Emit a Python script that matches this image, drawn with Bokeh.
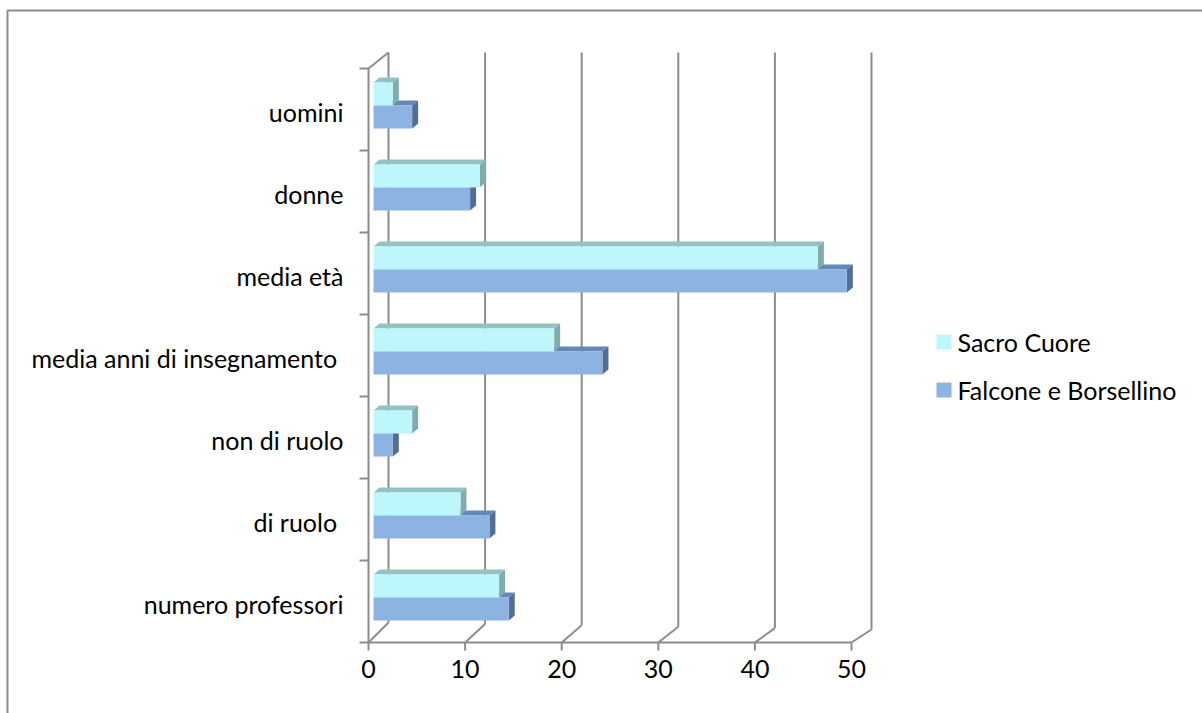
from bokeh.plotting import figure
from bokeh.models import Range1d
from bokeh.embed import file_html
from bokeh.resources import INLINE
from bokeh.core.properties import value

# ---- data -------------------------------------------------------------
categories = [
    "uomini",
    "donne",
    "media età",
    "media anni di insegnamento\u00a0",
    "non di ruolo",
    "di ruolo\u00a0",
    "numero professori",
]
series_names = ["Sacro Cuore", "Falcone e Borsellino"]
sacro_cuore = [2, 11, 46, 18.7, 4, 9, 13]
falcone_borsellino = [4, 10, 49, 23.7, 2, 12, 14]
x_ticks = [0, 10, 20, 30, 40, 50]

# ---- page geometry (pixels) ------------------------------------------
W, H = 1202, 713
X0_PX = 368          # front plane, value 0
SX = 9.66            # pixels per value unit
FLOOR_PX = 642       # front edge of the floor
TOP_PX = 68          # top of the front axis
N = len(categories)
SY = (FLOOR_PX - TOP_PX) / N   # pixels per category slot

def hx(px):
    return px / SX

def hy(px):
    return px / SY

def at_x(px):
    return (px - X0_PX) / SX

def at_y(px):
    return (FLOOR_PX - px) / SY

FONT = value("Lato")
FONT_SIZE = "25px"
LINE = "#8c8c8c"

p = figure(
    width=W, height=H,
    x_range=Range1d(at_x(0), at_x(W)),
    y_range=Range1d(at_y(H), at_y(0)),
    x_axis_type=None, y_axis_type=None,
    min_border=0, toolbar_location=None, output_backend="svg",
)
p.grid.visible = False
p.outline_line_color = None
p.background_fill_color = "white"
p.border_fill_color = "white"

# ---- chart area border ------------------------------------------------
p.line([at_x(7), at_x(7), at_x(W + 10)], [at_y(H + 10), at_y(10), at_y(10)],
       line_color=LINE, line_width=2)

# ---- 3-D walls --------------------------------------------------------
x_max = x_ticks[-1]
wall_dx = hx(20)
wall_top = N + hy(16)

def back_floor(v):
    # the back edge of the floor rises less towards the right
    return hy(20 - 7 * v / x_max)

xs, ys = [], []
# front axis and its top / bottom diagonals
xs.append([0, 0]); ys.append([0, N])
xs.append([0, wall_dx]); ys.append([N, wall_top])
xs.append([0, x_max]); ys.append([0, 0])
for v in x_ticks:
    # floor diagonal and back-wall gridline
    xs.append([v, v + wall_dx]); ys.append([0, back_floor(v)])
    xs.append([v + wall_dx, v + wall_dx]); ys.append([back_floor(v), wall_top])
    # tick below the floor
    xs.append([v, v]); ys.append([0, -hy(8)])
for k in range(N + 1):
    xs.append([-hx(9), 0]); ys.append([k, k])
p.multi_line(xs, ys, line_color=LINE, line_width=2)

# ---- bars -------------------------------------------------------------
bar_dx, bar_dy = hx(5), hy(4)      # bars sit a little behind the front plane
bar_h = hy(23)
dep_x, dep_y = hx(6), hy(5)        # bar thickness

styles = {
    "Sacro Cuore": ("#bdf7fc", "#93c2c2", "#7fadad"),
    "Falcone e Borsellino": ("#8db3e2", "#6488b8", "#4f6e98"),
}

def bar_faces(vals, upper):
    front, top, side = ([], []), ([], []), ([], [])
    for k, v in enumerate(vals):
        yc = N - (k + 0.5) + bar_dy
        y0, y1 = (yc, yc + bar_h) if upper else (yc - bar_h, yc)
        x0, x1 = bar_dx, bar_dx + v
        front[0].append([x0, x1, x1, x0]); front[1].append([y0, y0, y1, y1])
        top[0].append([x0, x1, x1 + dep_x, x0 + dep_x])
        top[1].append([y1, y1, y1 + dep_y, y1 + dep_y])
        side[0].append([x1, x1 + dep_x, x1 + dep_x, x1])
        side[1].append([y0, y0 + dep_y, y1 + dep_y, y1])
    return front, top, side

for name, vals, upper in [(series_names[1], falcone_borsellino, False),
                          (series_names[0], sacro_cuore, True)]:
    front, top, side = bar_faces(vals, upper)
    c_front, c_top, c_side = styles[name]
    p.patches(top[0], top[1], fill_color=c_top, line_color=None)
    p.patches(side[0], side[1], fill_color=c_side, line_color=None)
    p.patches(front[0], front[1], fill_color=c_front, line_color=None)

# ---- axis labels ------------------------------------------------------
p.text(x=[at_x(343)] * N, y=[N - (k + 0.5) - hy(2) for k in range(N)],
       text=categories, text_font=FONT, text_font_size=FONT_SIZE,
       text_color="#000000", text_align="right", text_baseline="middle")
p.text(x=x_ticks, y=[-hy(26)] * len(x_ticks), text=[str(t) for t in x_ticks],
       text_font=FONT, text_font_size=FONT_SIZE, text_color="#000000",
       text_align="center", text_baseline="middle")

# ---- legend -----------------------------------------------------------
leg_y = [at_y(341.5), at_y(389.5)]
p.rect(x=[at_x(943.5)] * 2, y=leg_y, width=hx(15), height=hy(15),
       fill_color=[styles[n][0] for n in series_names], line_color=None)
p.text(x=[at_x(957)] * 2, y=leg_y, text=series_names, text_font=FONT,
       text_font_size=FONT_SIZE, text_color="#000000", text_align="left",
       text_baseline="middle")

open("out.html", "w").write(file_html(p, INLINE))
